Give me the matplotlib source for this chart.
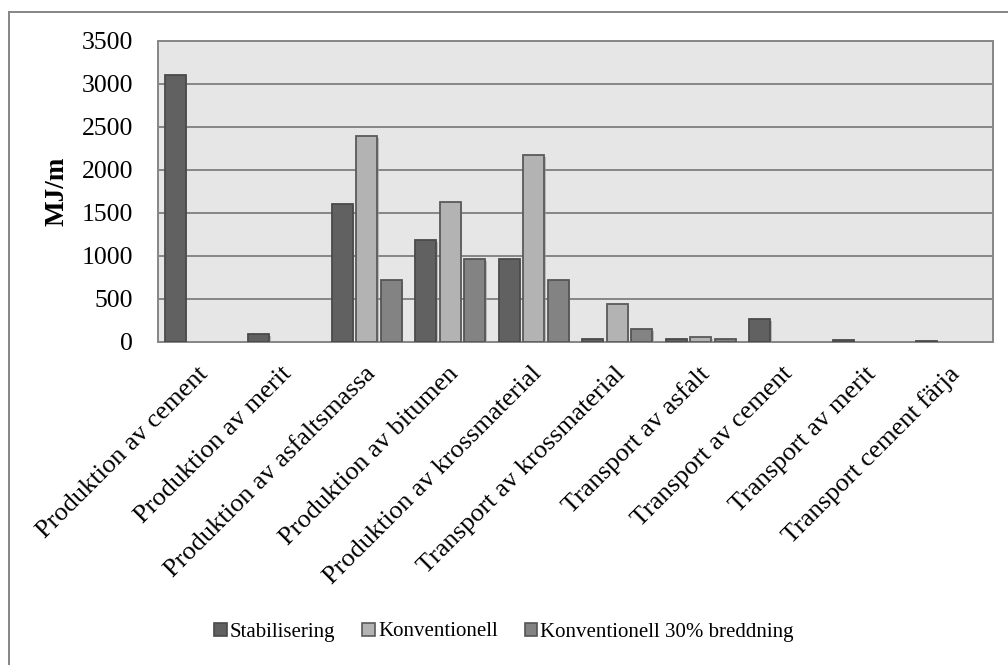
import matplotlib
matplotlib.use('Agg')
import matplotlib.pyplot as plt
import numpy as np
from matplotlib.transforms import ScaledTranslation
from matplotlib.lines import Line2D
from matplotlib.patches import Patch
import matplotlib.patheffects as pe

categories = ["Produktion av cement", "Produktion av merit", "Produktion av asfaltsmassa",
              "Produktion av bitumen", "Produktion av krossmaterial", "Transport av krossmaterial",
              "Transport av asfalt", "Transport av cement", "Transport av merit",
              "Transport cement färja"]
stabilisering = [3100, 90, 1610, 1190, 960, 40, 35, 270, 20, 8]
konventionell = [0, 0, 2400, 1630, 2170, 440, 55, 0, 0, 0]
konv_30 = [0, 0, 720, 965, 725, 150, 30, 0, 0, 0]
series_names = ["Stabilisering", "Konventionell", "Konventionell 30% breddning"]
yticks = [0, 500, 1000, 1500, 2000, 2500, 3000, 3500]

plt.rcParams['font.family'] = ['Liberation Serif', 'DejaVu Serif']

W, H = 1008, 665
fig = plt.figure(figsize=(W / 100, H / 100), dpi=100)
ax = fig.add_axes([158 / W, 1 - 342 / H, (993 - 158) / W, (342 - 41) / H])

face_colors = ['#616161', '#b3b3b3', '#838383']
edge_colors = ['#4a4a4a', '#5a5a5a', '#555555']
x = np.arange(len(categories))
bw = 0.248
step = 0.293
shadow = [pe.SimplePatchShadow(offset=(1.2, -1.5), shadow_rgbFace='#9a9a9a', alpha=0.6), pe.Normal()]
for i, vals in enumerate([stabilisering, konventionell, konv_30]):
    v = np.array(vals, dtype=float)
    m = v > 0
    bars = ax.bar(x[m] + (i - 1) * step, v[m], width=bw, color=face_colors[i],
                  edgecolor=edge_colors[i], linewidth=1.3, zorder=3)
    for b in bars:
        b.set_path_effects(shadow)

ax.set_xlim(-0.5, len(categories) - 0.5)
ax.set_ylim(0, 3500)
ax.set_yticks(yticks)
ax.set_yticklabels([str(t) for t in yticks], fontsize=18.5)
ax.set_facecolor('#e6e6e6')
ax.grid(axis='y', color='#868686', linewidth=1.4, zorder=1)
ax.set_axisbelow(True)
for s in ax.spines.values():
    s.set_color('#868686')
    s.set_linewidth(1.4)
ax.tick_params(axis='y', length=0, pad=18)
ax.tick_params(axis='x', length=0, pad=15)

ax.set_xticks(x)
ax.set_xticklabels(categories, fontsize=19, rotation=45, ha='right', va='top',
                   rotation_mode='anchor')
off = ScaledTranslation(-2 / 72, 0, fig.dpi_scale_trans)
for lab in ax.get_xticklabels():
    lab.set_transform(lab.get_transform() + off)

ax.set_ylabel("MJ/m", fontsize=19.5, fontweight='bold')
ax.yaxis.set_label_coords((70 - 158) / (993 - 158), 0.5)

handles = [Patch(facecolor=face_colors[i], edgecolor=edge_colors[i], linewidth=1.2)
           for i in range(3)]
fig.legend(handles, series_names, loc='center', bbox_to_anchor=(504 / W, 1 - 632 / H),
           ncol=3, frameon=False, fontsize=15, handlelength=0.6, handleheight=0.6,
           handletextpad=0.15, columnspacing=1.3)

fig.add_artist(Line2D([9 / W, 1.0], [1 - 12 / H, 1 - 12 / H], color='#868686', lw=1.4,
                      transform=fig.transFigure))
fig.add_artist(Line2D([9 / W, 9 / W], [1 - 12 / H, 0.0], color='#868686', lw=1.4,
                      transform=fig.transFigure))

fig.savefig('out.png', dpi=100, facecolor='white')
